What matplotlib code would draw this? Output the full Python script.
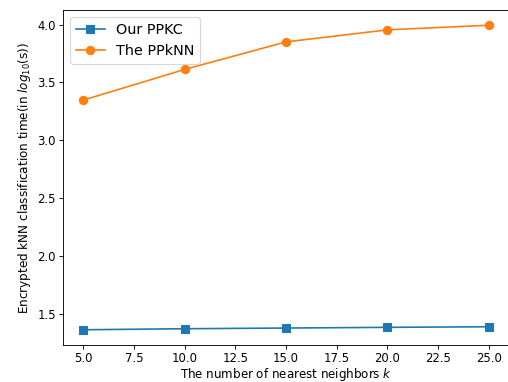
import numpy as np
import matplotlib
matplotlib.use("Agg")
import matplotlib.pyplot as plt

k_values = [5, 10, 15, 20, 25]
ppkc_time = [1.362, 1.371, 1.377, 1.383, 1.388]
ppknn_time = [3.347, 3.612, 3.850, 3.954, 3.994]

dpi = 508 / 6.4
fig = plt.figure(figsize=(6.4, 382 / dpi), dpi=dpi)
ax = fig.add_axes([63 / 508, 37 / 382, 446 / 508, 335 / 382])

ax.plot(k_values, ppkc_time, marker="s", markersize=7.5, label="Our PPKC")
ax.plot(k_values, ppknn_time, marker="o", markersize=7.5, label="The PPkNN")

ax.tick_params(labelsize=10.6, pad=3)
ax.set_xlabel("The number of nearest neighbors $k$", fontsize=10.8, labelpad=1)
ax.set_ylabel("Encrypted kNN classification time(in $log_{10}$(s))", fontsize=10.9)
ax.legend(loc="upper left", fontsize=13)

fig.savefig("out.png", dpi=dpi)
